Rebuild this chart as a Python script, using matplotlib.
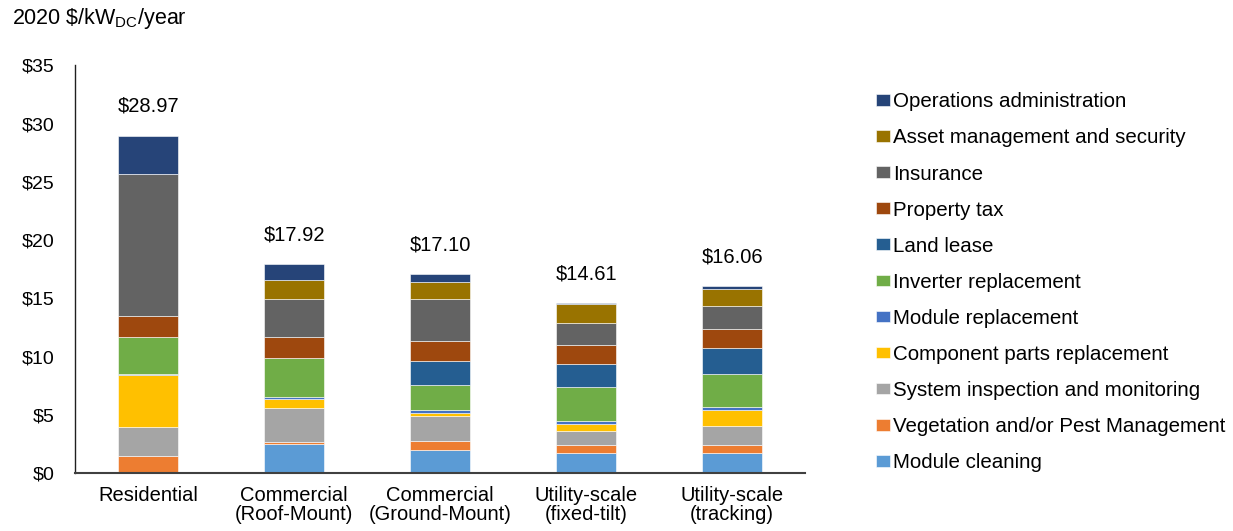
import matplotlib.pyplot as plt
import numpy as np

plt.rcParams['font.family'] = ['Liberation Sans', 'DejaVu Sans']
plt.rcParams['mathtext.fontset'] = 'custom'
plt.rcParams['mathtext.rm'] = 'Liberation Sans'

##################################################################
## Data (2020 $/kWdc/year)
categories = ['Residential', 'Commercial\n(Roof-Mount)', 'Commercial\n(Ground-Mount)',
              'Utility-scale\n(fixed-tilt)', 'Utility-scale\n(tracking)']
totals = [28.97, 17.92, 17.10, 14.61, 16.06]

module_cleaning = [0.00, 2.46, 2.00, 1.69, 1.69]
vegetation = [1.43, 0.17, 0.72, 0.74, 0.71]
inspection = [2.49, 3.00, 2.20, 1.17, 1.63]
component_parts = [4.46, 0.72, 0.28, 0.60, 1.37]
module_replacement = [0.10, 0.17, 0.18, 0.26, 0.24]
inverter_replacement = [3.18, 3.37, 2.17, 2.90, 2.90]
land_lease = [0.00, 0.00, 2.03, 2.00, 2.20]
property_tax = [1.86, 1.75, 1.74, 1.63, 1.60]
insurance = [12.12, 3.31, 3.63, 1.89, 2.04]
asset_management = [0.00, 1.63, 1.49, 1.63, 1.43]
operations_admin = [3.33, 1.34, 0.66, 0.10, 0.25]

series = [
    ('Module cleaning', module_cleaning, '#5B9BD5'),
    ('Vegetation and/or Pest Management', vegetation, '#ED7D31'),
    ('System inspection and monitoring', inspection, '#A5A5A5'),
    ('Component parts replacement', component_parts, '#FFC000'),
    ('Module replacement', module_replacement, '#4472C4'),
    ('Inverter replacement', inverter_replacement, '#70AD47'),
    ('Land lease', land_lease, '#255E91'),
    ('Property tax', property_tax, '#9E480E'),
    ('Insurance', insurance, '#636363'),
    ('Asset management and security', asset_management, '#997300'),
    ('Operations administration', operations_admin, '#264478'),
]

##################################################################
## Plot
fig = plt.figure(figsize=(12.33, 5.31), dpi=100)
ax = fig.add_axes([0.061, 0.109, 0.592, 0.768])

x = np.arange(len(categories))
bottom = np.zeros(len(categories))
for name, vals, col in series:
    vals = np.array(vals)
    ax.bar(x, vals, 0.41, bottom=bottom, color=col, label=name,
           edgecolor='white', linewidth=0.4)
    bottom += vals

for xi, tot, top in zip(x, totals, bottom):
    ax.text(xi, top + 1.7, '${:.2f}'.format(tot), ha='center', va='bottom', fontsize=14.5)

ax.set_xlim(-0.5, 4.5)
ax.set_ylim(0, 35)
ax.set_yticks(np.arange(0, 36, 5))
ax.set_yticklabels(['${}'.format(v) for v in range(0, 36, 5)], fontsize=14)
ax.set_xticks(x)
ax.set_xticklabels(categories, fontsize=14.5, linespacing=1.0)
ax.tick_params(axis='both', length=0)
ax.tick_params(axis='y', pad=15)
ax.tick_params(axis='x', pad=9)
for s in ['top', 'right']:
    ax.spines[s].set_visible(False)
ax.spines['left'].set_color('#202020')
ax.spines['left'].set_linewidth(1.0)
ax.spines['bottom'].set_color('#404040')
ax.spines['bottom'].set_linewidth(1.5)

fig.text(0.01, 0.966, r'2020 \$/kW$_{\mathrm{DC}}$/year', fontsize=15.5, va='center')

handles, labels = ax.get_legend_handles_labels()
fig.legend(handles[::-1], labels[::-1], loc='upper left', bbox_to_anchor=(0.7105, 0.826),
           frameon=False, fontsize=14.8, handlelength=0.67, handleheight=0.5,
           handletextpad=0.15, labelspacing=0.83, borderpad=0, borderaxespad=0)

plt.savefig('out.png', dpi=100)
plt.close()
